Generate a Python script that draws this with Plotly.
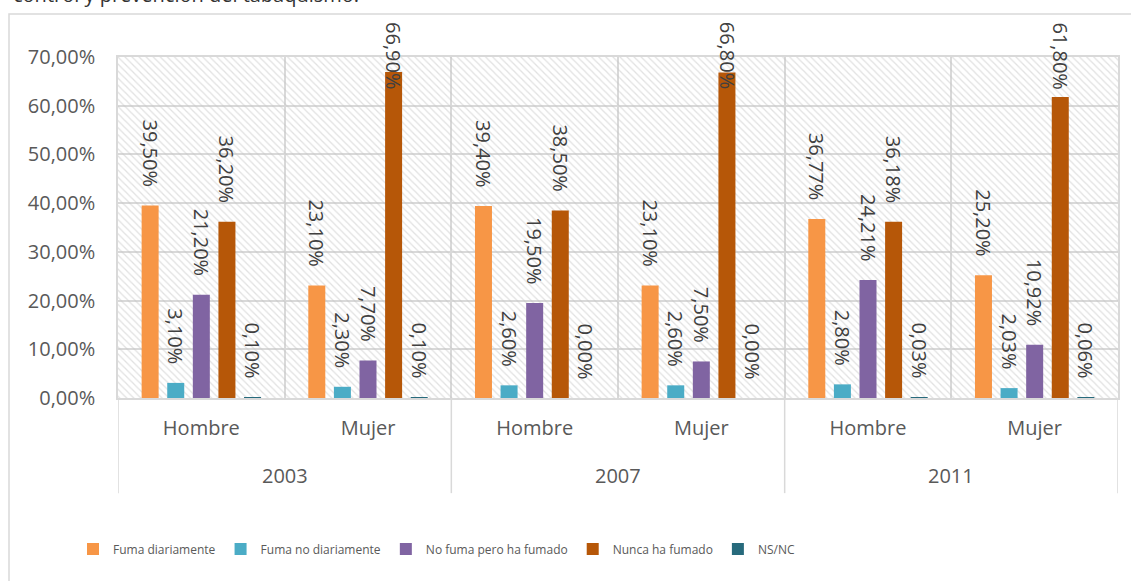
import plotly.graph_objects as go

years = ["2003", "2003", "2007", "2007", "2011", "2011"]
sexes = ["Hombre", "Mujer", "Hombre", "Mujer", "Hombre", "Mujer"]

series_names = ["Fuma diariamente", "Fuma no diariamente", "No fuma pero ha fumado",
                "Nunca ha fumado", "NS/NC"]
fuma_diariamente = [39.50, 23.10, 39.40, 23.10, 36.77, 25.20]
fuma_no_diariamente = [3.10, 2.30, 2.60, 2.60, 2.80, 2.03]
no_fuma_ha_fumado = [21.20, 7.70, 19.50, 7.50, 24.21, 10.92]
nunca_ha_fumado = [36.20, 66.90, 38.50, 66.80, 36.18, 61.80]
ns_nc = [0.10, 0.10, 0.00, 0.00, 0.03, 0.06]
series_values = [fuma_diariamente, fuma_no_diariamente, no_fuma_ha_fumado, nunca_ha_fumado, ns_nc]
colors = ["#F79646", "#4BACC6", "#8064A2", "#B65708", "#276A7C"]

y_max = 70
y_step = 10

TXT = "#595959"
GRID = "#d9d9d9"
FONT = "Open Sans"
BARGAP = 0.232
# labels of taller bars are pushed down to stay inside the chart (as in the original)
CLAMP_ABOVE = 60

idx = list(range(len(sexes)))
n_series = len(series_names)
slot = (1 - BARGAP) / n_series

fig = go.Figure()

# hatched plot background (base subplot)
fig.add_trace(go.Bar(
    x=[(idx[0] + idx[-1]) / 2], y=[y_max], width=[len(idx)], xaxis="x", yaxis="y",
    marker=dict(color="rgba(0,0,0,0)", line=dict(width=0),
                pattern=dict(shape="\\", fgcolor="#c4c4c4", bgcolor="rgba(0,0,0,0)",
                             size=5, solidity=0.25, fillmode="overlay")),
    showlegend=False, hoverinfo="skip",
))

nb = "\u00a0\u00a0\u00a0"
annotations = []
for k, (name, vals, col) in enumerate(zip(series_names, series_values, colors)):
    tt = []
    for i, v in zip(idx, vals):
        if v > CLAMP_ABOVE:
            tt.append("")
            annotations.append(dict(
                text=f"{v:.2f}%".replace(".", ","), x=i + (k - (n_series - 1) / 2) * slot,
                xref="x", yref="paper", y=1.108, xanchor="center", yanchor="top",
                textangle=90, showarrow=False,
                font=dict(family=FONT, size=20, color="#404040")))
        else:
            tt.append("%{y:.2f}%" + nb)
    fig.add_trace(go.Bar(
        name=name, x=idx, y=vals, xaxis="x2", yaxis="y2",
        marker=dict(color=col, line=dict(width=0)),
        texttemplate=tt, textposition="outside", textangle=90,
        textfont=dict(family=FONT, size=20, color="#404040"),
        constraintext="none", cliponaxis=False,
    ))

# year labels (second level of the category axis)
for yr in sorted(set(years)):
    pos = [i for i in idx if years[i] == yr]
    annotations.append(dict(text=yr, x=sum(pos) / len(pos), xref="x", yref="paper",
                            y=-0.226, xanchor="center", yanchor="middle", showarrow=False,
                            font=dict(family=FONT, size=20, color=TXT)))

annotations.append(dict(text="control y prevención del tabaquismo.", xref="paper", yref="paper",
                        x=-0.107, y=1.138, xanchor="left", yanchor="bottom", showarrow=False,
                        font=dict(family=FONT, size=20, color="#333333")))

# chart border and year dividers
shapes = [dict(type="rect", xref="paper", yref="paper", x0=-0.109, x1=1.06, y0=-0.7, y1=1.126,
               line=dict(color=GRID, width=1.5), fillcolor="rgba(0,0,0,0)", layer="below")]
bounds = [-0.5] + [i + 0.5 for i in idx[:-1] if years[i] != years[i + 1]] + [idx[-1] + 0.5]
for xv in bounds:
    shapes.append(dict(type="line", xref="x", yref="paper", x0=xv, x1=xv, y0=0, y1=-0.279,
                       line=dict(color=GRID, width=1.5)))

xr = [-0.5, idx[-1] + 0.5]
fig.update_layout(
    width=1131, height=581,
    margin=dict(l=118, r=13, t=57, b=183),
    paper_bgcolor="white", plot_bgcolor="white",
    separators=",.",
    barmode="group", bargap=BARGAP, bargroupgap=0.336,
    font=dict(family=FONT, color=TXT),
    shapes=shapes, annotations=annotations,
    xaxis=dict(range=xr, tickvals=[i - 0.5 for i in idx] + [idx[-1] + 0.5],
               showticklabels=False, showgrid=True, gridcolor=GRID, gridwidth=1.5,
               showline=True, linecolor=GRID, linewidth=1.5, mirror=True, zeroline=False,
               ticks=""),
    yaxis=dict(range=[0, y_max], dtick=y_step, tick0=0, tickformat=".2f", ticksuffix="%",
               showgrid=True, gridcolor=GRID, gridwidth=1.5, zeroline=False,
               showline=True, linecolor=GRID, linewidth=1.5, mirror=True,
               ticks="", ticklabelstandoff=17, tickfont=dict(size=20, color=TXT)),
    xaxis2=dict(overlaying="x", anchor="y2", side="bottom", range=xr,
                tickvals=idx, ticktext=sexes, showgrid=False, showline=False, ticks="",
                zeroline=False, ticklabelstandoff=16, tickfont=dict(size=20, color=TXT)),
    yaxis2=dict(range=[0, y_max], overlaying="y", anchor="x2", showgrid=False,
                showticklabels=False, zeroline=False, showline=False),
    legend=dict(orientation="h", x=-0.045, xanchor="left", y=-0.443, yanchor="middle",
                font=dict(family=FONT, size=12, color=TXT),
                itemwidth=30, bgcolor="rgba(0,0,0,0)"),
)

fig.write_html("out.html")
